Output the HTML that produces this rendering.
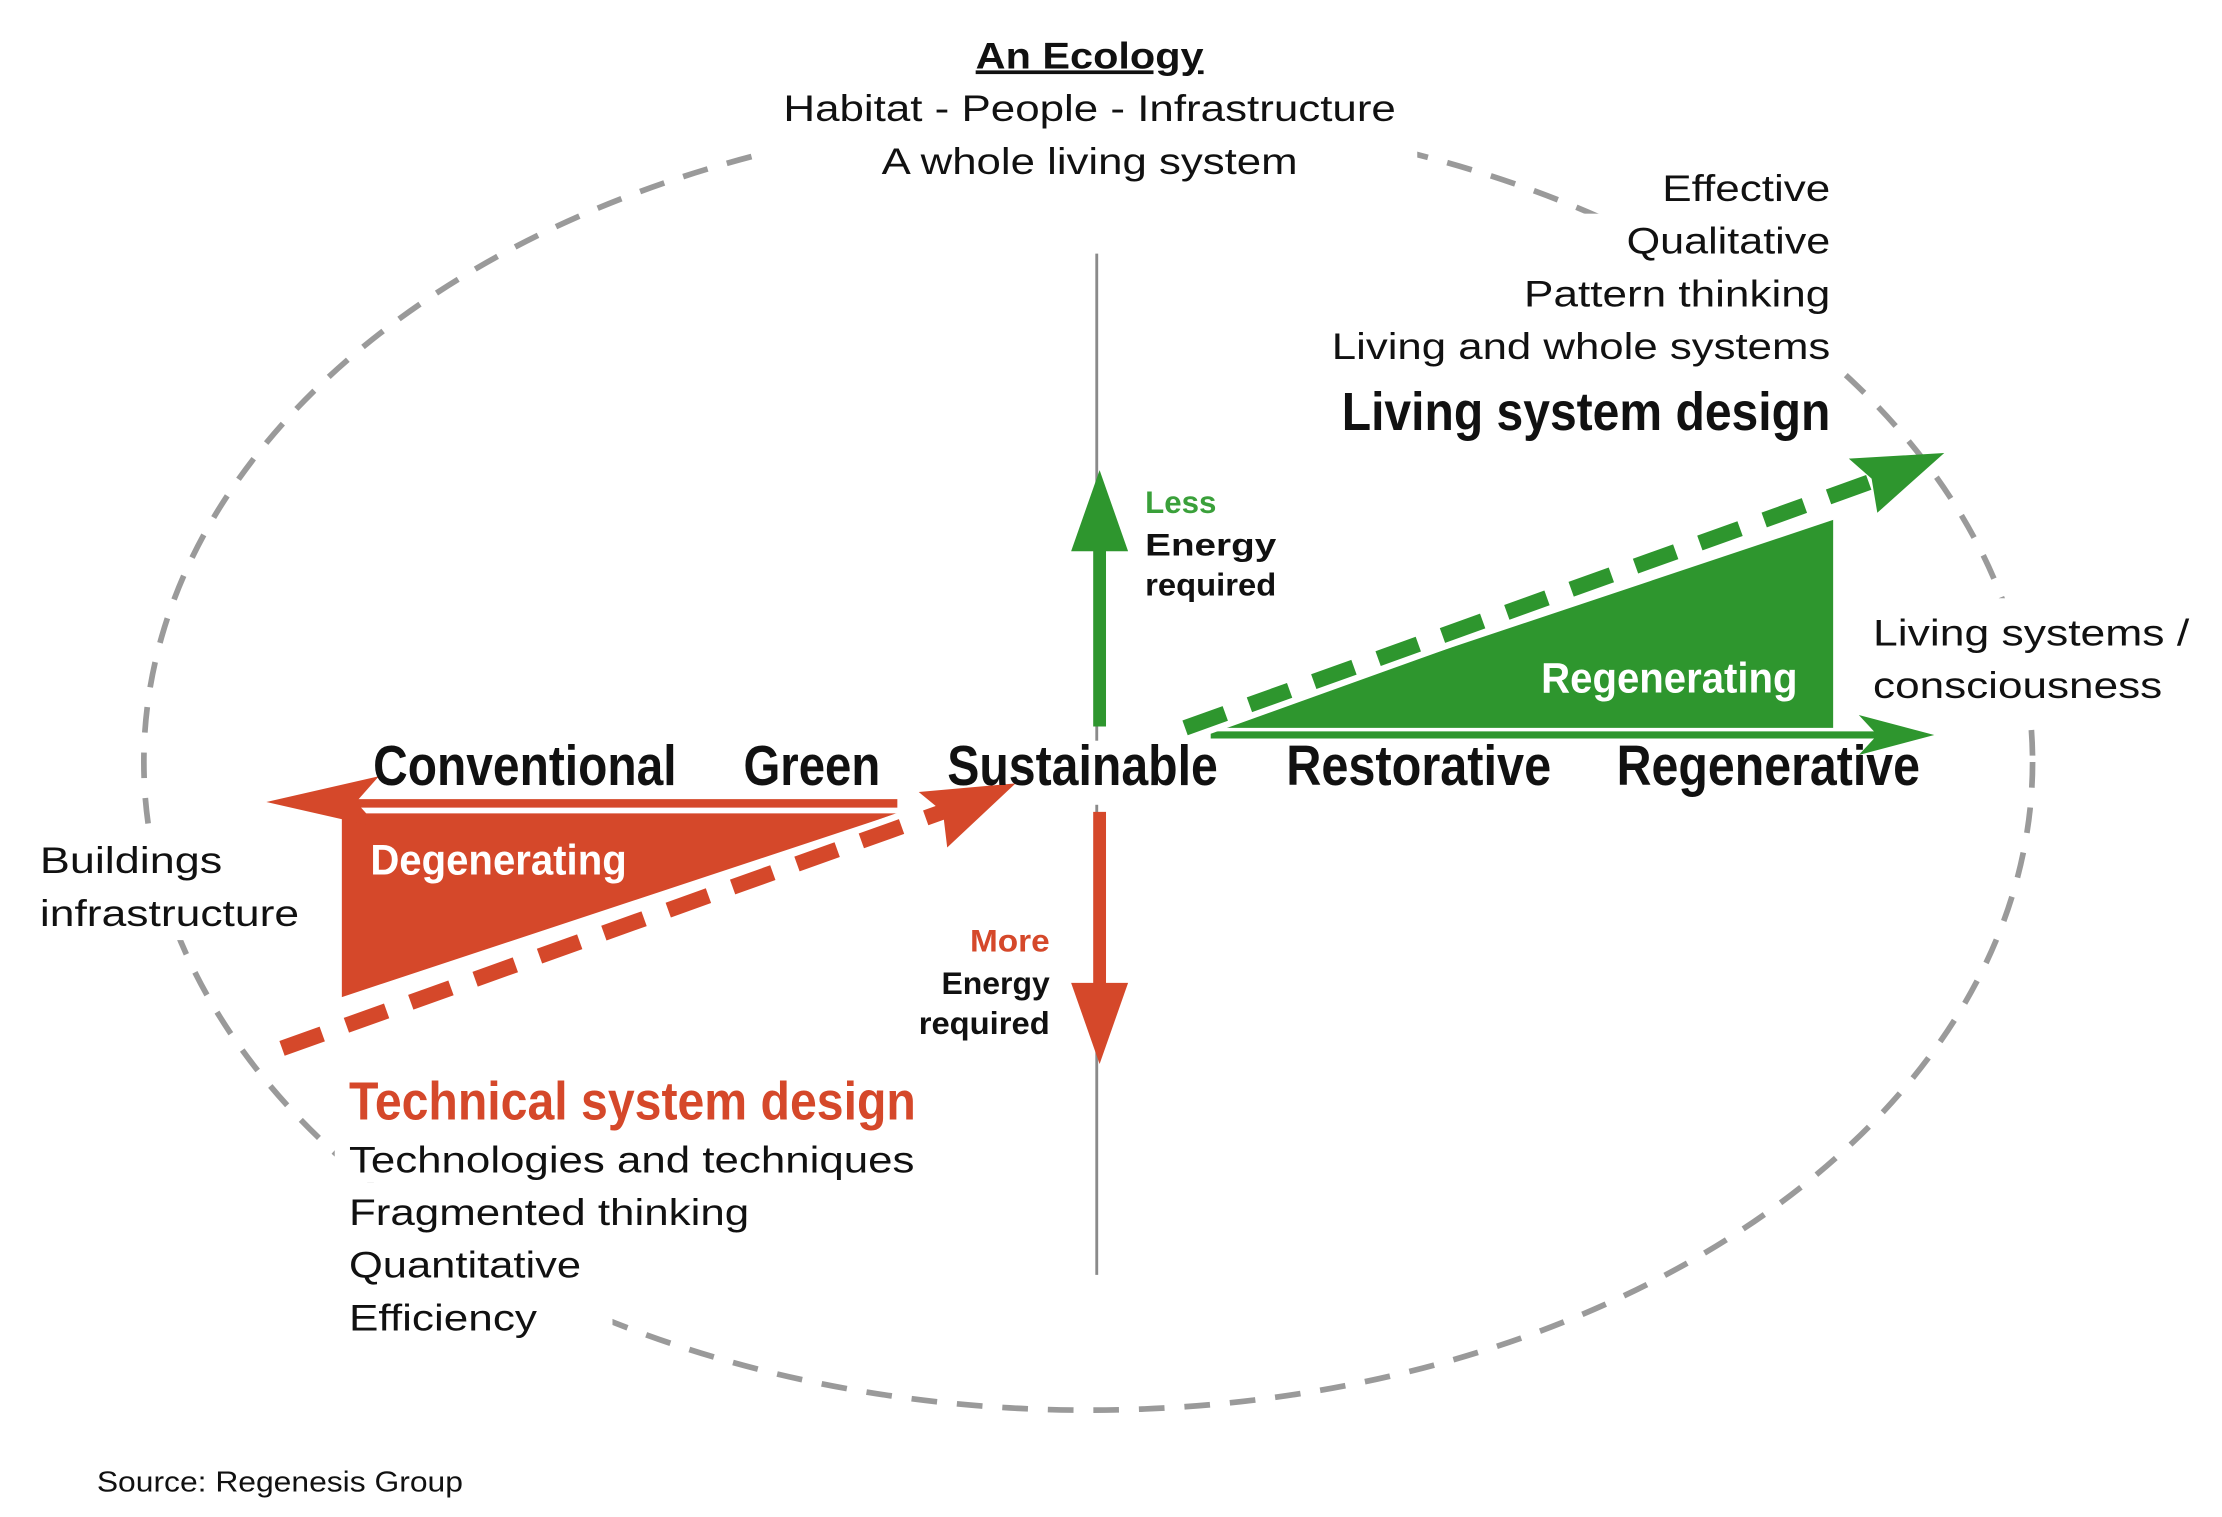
<!DOCTYPE html>
<html><head><meta charset="utf-8"><style>
html,body{margin:0;padding:0;background:#fff;}
svg{display:block;}
text{font-family:"Liberation Sans",sans-serif;}
.c{font-weight:bold;}
</style></head><body>
<svg width="2222" height="1517" viewBox="0 0 1560 1065" xmlns="http://www.w3.org/2000/svg">
<ellipse cx="764" cy="535" rx="663" ry="455" fill="none" stroke="#9a9a9a" stroke-width="4" stroke-dasharray="18 14"/>
<rect x="540" y="20" width="455" height="112" fill="#fff"/>
<rect x="930" y="150" width="362" height="165" fill="#fff"/>
<rect x="1160" y="114" width="132" height="40" fill="#fff"/>
<rect x="1300" y="420" width="240" height="80" fill="#fff"/>
<rect x="20" y="585" width="195" height="75" fill="#fff"/>
<rect x="235" y="750" width="410" height="80" fill="#fff"/>
<rect x="235" y="830" width="195" height="115" fill="#fff"/>
<line x1="770" y1="178" x2="770" y2="895" stroke="#8a8a8a" stroke-width="2"/>
<rect x="755" y="520" width="30" height="45" fill="#fff"/>
<line x1="772" y1="510" x2="772" y2="375" stroke="#2e962e" stroke-width="9"/>
<polygon points="772,330 752,387 792,387" fill="#2e962e"/>
<line x1="772" y1="570" x2="772" y2="700" stroke="#d5482a" stroke-width="9"/>
<polygon points="772,747 752,690 792,690" fill="#d5482a"/>
<polygon points="240,571 630,571 240,700" fill="#d5482a"/>
<line x1="240" y1="564" x2="630" y2="564" stroke="#d5482a" stroke-width="6"/>
<polygon points="187,563 266,545 250,563 266,581" fill="#d5482a"/>
<line x1="198" y1="736" x2="670" y2="567" stroke="#fff" stroke-width="20"/>
<line x1="198" y1="736" x2="670" y2="567" stroke="#d5482a" stroke-width="11" stroke-dasharray="30 18"/>
<polygon points="713,550 645,556 662,570 665,595" fill="#d5482a"/>
<polygon points="850,511 1287,511 1287,365" fill="#2e962e"/>
<line x1="850" y1="516" x2="1325" y2="516" stroke="#2e962e" stroke-width="5"/>
<polygon points="1358,516 1305,502 1318,516 1305,530" fill="#2e962e"/>
<line x1="832" y1="511" x2="1325" y2="334" stroke="#fff" stroke-width="20"/>
<line x1="832" y1="511" x2="1325" y2="334" stroke="#2e962e" stroke-width="11" stroke-dasharray="30 18"/>
<polygon points="1365,318 1298,322 1314,336 1318,360" fill="#2e962e"/>
<g fill="#111">
<text x="765" y="48" font-size="26" text-anchor="middle" class="c" text-decoration="underline" textLength="160" lengthAdjust="spacingAndGlyphs">An Ecology</text>
<text x="765" y="85" font-size="26" text-anchor="middle" textLength="430" lengthAdjust="spacingAndGlyphs">Habitat - People - Infrastructure</text>
<text x="765" y="122" font-size="26" text-anchor="middle" textLength="292" lengthAdjust="spacingAndGlyphs">A whole living system</text>
<text x="1285" y="141" font-size="26" text-anchor="end" textLength="118" lengthAdjust="spacingAndGlyphs">Effective</text>
<text x="1285" y="178" font-size="26" text-anchor="end" textLength="143" lengthAdjust="spacingAndGlyphs">Qualitative</text>
<text x="1285" y="215" font-size="26" text-anchor="end" textLength="215" lengthAdjust="spacingAndGlyphs">Pattern thinking</text>
<text x="1285" y="252" font-size="26" text-anchor="end" textLength="350" lengthAdjust="spacingAndGlyphs">Living and whole systems</text>
<text x="1285" y="302" font-size="38" class="c" text-anchor="end" textLength="343" lengthAdjust="spacingAndGlyphs">Living system design</text>
<text x="1315" y="453" font-size="26" textLength="222" lengthAdjust="spacingAndGlyphs">Living systems /</text>
<text x="1315" y="490" font-size="26" textLength="203" lengthAdjust="spacingAndGlyphs">consciousness</text>
<text x="28" y="613" font-size="26" textLength="128" lengthAdjust="spacingAndGlyphs">Buildings</text>
<text x="28" y="650" font-size="26" textLength="182" lengthAdjust="spacingAndGlyphs">infrastructure</text>
<text x="262" y="551" font-size="40" class="c" textLength="213" lengthAdjust="spacingAndGlyphs">Conventional</text>
<text x="522" y="551" font-size="40" class="c" textLength="96" lengthAdjust="spacingAndGlyphs">Green</text>
<text x="665" y="551" font-size="40" class="c" textLength="190" lengthAdjust="spacingAndGlyphs">Sustainable</text>
<text x="903" y="551" font-size="40" class="c" textLength="186" lengthAdjust="spacingAndGlyphs">Restorative</text>
<text x="1135" y="551" font-size="40" class="c" textLength="213" lengthAdjust="spacingAndGlyphs">Regenerative</text>
<text x="804" y="390" font-size="22" class="c" textLength="92" lengthAdjust="spacingAndGlyphs">Energy</text>
<text x="804" y="418" font-size="22" class="c" textLength="92" lengthAdjust="spacingAndGlyphs">required</text>
<text x="737" y="698" font-size="22" class="c" text-anchor="end" textLength="76" lengthAdjust="spacingAndGlyphs">Energy</text>
<text x="737" y="726" font-size="22" class="c" text-anchor="end" textLength="92" lengthAdjust="spacingAndGlyphs">required</text>
<text x="245" y="823" font-size="26" textLength="397" lengthAdjust="spacingAndGlyphs">Technologies and techniques</text>
<text x="245" y="860" font-size="26" textLength="281" lengthAdjust="spacingAndGlyphs">Fragmented thinking</text>
<text x="245" y="897" font-size="26" textLength="163" lengthAdjust="spacingAndGlyphs">Quantitative</text>
<text x="245" y="934" font-size="26" textLength="132" lengthAdjust="spacingAndGlyphs">Efficiency</text>
<text x="68" y="1047" font-size="20" textLength="257" lengthAdjust="spacingAndGlyphs">Source: Regenesis Group</text>
</g>
<text x="804" y="360" font-size="22" class="c" fill="#3aa03a" textLength="50" lengthAdjust="spacingAndGlyphs">Less</text>
<text x="737" y="668" font-size="22" class="c" fill="#d5482a" text-anchor="end" textLength="56" lengthAdjust="spacingAndGlyphs">More</text>
<text x="260" y="614" font-size="30" class="c" fill="#fff" textLength="180" lengthAdjust="spacingAndGlyphs">Degenerating</text>
<text x="1262" y="486" font-size="30" class="c" fill="#fff" text-anchor="end" textLength="180" lengthAdjust="spacingAndGlyphs">Regenerating</text>
<text x="245" y="786" font-size="38" class="c" fill="#d5482a" textLength="398" lengthAdjust="spacingAndGlyphs">Technical system design</text>
</svg>
</body></html>
